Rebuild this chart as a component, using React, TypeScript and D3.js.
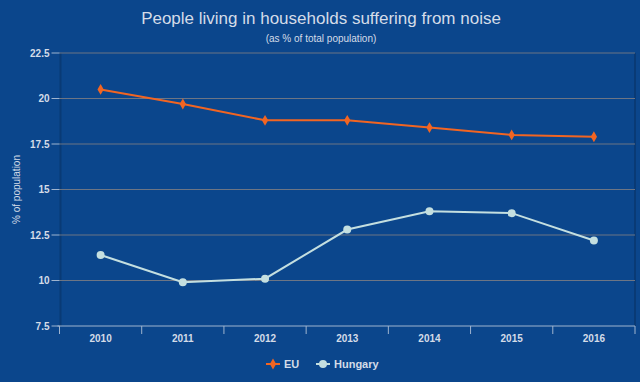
import React from "react";
import * as d3 from "d3";

const years = ["2010", "2011", "2012", "2013", "2014", "2015", "2016"];
const euValues = [20.5, 19.7, 18.8, 18.8, 18.4, 18.0, 17.9];
const huValues = [11.4, 9.9, 10.1, 12.8, 13.8, 13.7, 12.2];
const yTicks = [7.5, 10, 12.5, 15, 17.5, 20, 22.5];

const W = 640;
const H = 382;
const left = 59.5;
const right = 635;
const top = 53;
const bottom = 326;

const BG = "#0b468c";
const EU_COLOR = "#f26522";
const HU_COLOR = "#c4dfe0";
const TEXT = "#d4dce8";
const FONT = "'Liberation Sans', Arial, sans-serif";

export default function App() {
  const x = d3.scaleBand<string>().domain(years).range([left, right]);
  const y = d3.scaleLinear().domain([7.5, 22.5]).range([bottom, top]);
  const cx = (yr: string) => (x(yr) as number) + x.bandwidth() / 2;
  const line = d3
    .line<number>()
    .x((_, i) => cx(years[i]))
    .y((d) => y(d));

  const diamond = d3.symbol().type(d3.symbolDiamond).size(34)() as string;

  return (
    <svg
      width={W}
      height={H}
      style={{ position: "absolute", left: 0, top: 0, display: "block" }}
    >
      <rect x={0} y={0} width={W} height={H} fill={BG} />
      <text
        x={W / 2 + 1}
        y={24}
        textAnchor="middle"
        fill={TEXT}
        fontFamily={FONT}
        fontSize={17}
      >
        People living in households suffering from noise
      </text>
      <text
        x={W / 2 + 1}
        y={42}
        textAnchor="middle"
        fill={TEXT}
        fontFamily={FONT}
        fontSize={10}
      >
        (as % of total population)
      </text>

      {/* plot border shadows */}
      <line x1={left + 1} x2={left + 1} y1={top} y2={bottom} stroke="#093a75" strokeWidth={2} />
      <line x1={right} x2={right} y1={top} y2={bottom} stroke="#093a75" strokeWidth={2} />

      {/* gridlines */}
      {yTicks.map((t) => (
        <g key={t}>
          <line
            x1={left}
            x2={right}
            y1={y(t)}
            y2={y(t)}
            stroke="#6d7584"
            strokeWidth={1}
            opacity={t === 7.5 ? 0 : 1}
          />
          <line x1={left - 8} x2={left} y1={y(t)} y2={y(t)} stroke="#9fb4cf" strokeWidth={1} />
          <text
            x={left - 10}
            y={y(t)}
            dy="0.35em"
            textAnchor="end"
            fill={TEXT}
            fontFamily={FONT}
            fontSize={10}
            fontWeight="bold"
          >
            {t}
          </text>
        </g>
      ))}

      {/* x axis */}
      <line x1={left - 2} x2={right} y1={bottom} y2={bottom} stroke="#9fb4cf" strokeWidth={1} />
      {years.map((yr) => (
        <line
          key={"t" + yr}
          x1={x(yr) as number}
          x2={x(yr) as number}
          y1={bottom}
          y2={bottom + 8}
          stroke="#9fb4cf"
        />
      ))}
      <line x1={right} x2={right} y1={bottom} y2={bottom + 8} stroke="#9fb4cf" />
      {years.map((yr) => (
        <text
          key={"l" + yr}
          x={cx(yr)}
          y={342}
          textAnchor="middle"
          fill={TEXT}
          fontFamily={FONT}
          fontSize={10}
          fontWeight="bold"
        >
          {yr}
        </text>
      ))}

      <text
        transform={`translate(20,${(top + bottom) / 2}) rotate(-90)`}
        textAnchor="middle"
        fill={TEXT}
        fontFamily={FONT}
        fontSize={10}
      >
        % of population
      </text>

      {/* EU series */}
      <path d={line(euValues) as string} fill="none" stroke={EU_COLOR} strokeWidth={2} />
      {euValues.map((v, i) => (
        <path
          key={"eu" + i}
          d={diamond}
          transform={`translate(${cx(years[i])},${y(v)})`}
          fill={EU_COLOR}
        />
      ))}

      {/* Hungary series */}
      <path d={line(huValues) as string} fill="none" stroke={HU_COLOR} strokeWidth={2} />
      {huValues.map((v, i) => (
        <circle key={"hu" + i} cx={cx(years[i])} cy={y(v)} r={4} fill={HU_COLOR} />
      ))}

      {/* legend */}
      <g>
        <line x1={266} x2={280} y1={364} y2={364} stroke={EU_COLOR} strokeWidth={2} />
        <path d={diamond} transform="translate(273,364)" fill={EU_COLOR} />
        <text x={284} y={368} fill={TEXT} fontFamily={FONT} fontSize={11} fontWeight="bold">
          EU
        </text>
        <line x1={316} x2={330} y1={364} y2={364} stroke={HU_COLOR} strokeWidth={2} />
        <circle cx={323} cy={364} r={4} fill={HU_COLOR} />
        <text x={334} y={368} fill={TEXT} fontFamily={FONT} fontSize={11} fontWeight="bold">
          Hungary
        </text>
      </g>
    </svg>
  );
}
